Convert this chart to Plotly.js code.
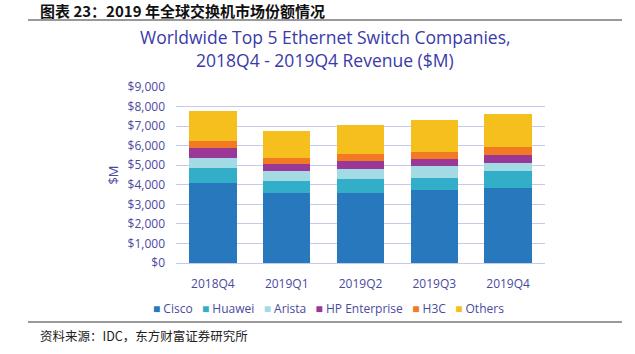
<!DOCTYPE html>
<html>
<head>
<meta charset="utf-8">
<script src="https://cdn.plot.ly/plotly-3.0.1.min.js"></script>
<style>html,body{margin:0;padding:0;background:#fff;}#chart{width:635px;height:354px;}</style>
</head>
<body>
<div id="chart"></div>
<script>
const quarters = ["2018Q4", "2019Q1", "2019Q2", "2019Q3", "2019Q4"];
const cisco   = [4110, 3600, 3580, 3740, 3850];
const huawei  = [760, 610, 700, 630, 840];
const arista  = [510, 510, 510, 580, 440];
const hpe     = [490, 340, 410, 390, 410];
const h3c     = [360, 320, 370, 360, 390];
const others  = [1550, 1350, 1480, 1620, 1700];
const yTickVals = [0, 1000, 2000, 3000, 4000, 5000, 6000, 7000, 8000, 9000];
const yTickText = ["$0", "$1,000", "$2,000", "$3,000", "$4,000", "$5,000", "$6,000", "$7,000", "$8,000", "$9,000"];

const seriesNames = ["Cisco", "Huawei", "Arista", "HP Enterprise", "H3C", "Others"];
const seriesVals = [cisco, huawei, arista, hpe, h3c, others];
const colors = ["#2778bd", "#33aec8", "#a3dbe4", "#9b3797", "#f27a22", "#f5c01e"];

const traces = seriesNames.map((n, i) => ({
  type: "bar", name: n, x: quarters, y: seriesVals[i],
  marker: {color: colors[i], line: {width: 0}},
  hoverinfo: "none", showlegend: false
}));

const txt = "#4a4aa0";
const W = 635, H = 354, L = 176, R = 90, T = 87, B = 91;
const pw = W - L - R, ph = H - T - B;
const px = v => (v - L) / pw;
const py = v => (H - B - v) / ph;

const legendText = seriesNames.map((n, i) =>
  `<span style="color:${colors[i]};font-size:12px">■</span> ${n}`).join("&nbsp;&nbsp;&nbsp;");

const layout = {
  width: W, height: H,
  margin: {l: L, r: R, t: T, b: B},
  barmode: "stack", bargap: 0.36,
  paper_bgcolor: "#fff", plot_bgcolor: "#fff",
  font: {family: "Open Sans, Noto Sans, sans-serif", color: txt, size: 12},
  xaxis: {
    showgrid: false, showline: true, linecolor: "#c8c8ee", linewidth: 1,
    ticks: "", tickfont: {size: 12, color: txt}, ticklabelstandoff: 10, fixedrange: true
  },
  yaxis: {
    range: [0, 9000], tickvals: yTickVals, ticktext: yTickText,
    showgrid: true, gridcolor: "#c8c8ee", gridwidth: 1, zeroline: false,
    showline: false, ticks: "", tickfont: {size: 12, color: txt}, ticklabelstandoff: 10,
    title: {text: "$M", font: {size: 13, color: txt}, standoff: 6},
    fixedrange: true
  },
  showlegend: false,
  annotations: [
    {text: "Worldwide Top 5 Ethernet Switch Companies,", xref: "paper", yref: "paper",
     x: px(325), y: py(37), xanchor: "center", yanchor: "middle", showarrow: false,
     font: {size: 17.5, color: "#3a3aa8"}},
    {text: "2018Q4 - 2019Q4 Revenue ($M)", xref: "paper", yref: "paper",
     x: px(325), y: py(60), xanchor: "center", yanchor: "middle", showarrow: false,
     font: {size: 17.5, color: "#3a3aa8"}},
    {text: legendText, xref: "paper", yref: "paper",
     x: px(328), y: py(308), xanchor: "center", yanchor: "middle", showarrow: false,
     font: {size: 12, color: txt}},
    {text: "<b>图表 23：2019 年全球交换机市场份额情况</b>", xref: "paper", yref: "paper",
     x: px(38), y: py(10), xanchor: "left", yanchor: "middle", showarrow: false,
     font: {family: "Noto Sans CJK SC", size: 15, color: "#111"}},
    {text: "资料来源：IDC，东方财富证券研究所", xref: "paper", yref: "paper",
     x: px(38), y: py(335), xanchor: "left", yanchor: "middle", showarrow: false,
     font: {family: "Noto Sans CJK SC", size: 12.5, color: "#222"}}
  ],
  shapes: [
    {type: "line", xref: "paper", yref: "paper", x0: px(28), x1: px(622),
     y0: py(20), y1: py(20), line: {color: "#777", width: 1.5}},
    {type: "line", xref: "paper", yref: "paper", x0: px(28), x1: px(622),
     y0: py(322), y1: py(322), line: {color: "#777", width: 1.5}}
  ]
};

Plotly.newPlot("chart", traces, layout, {displayModeBar: false, staticPlot: true});
</script>
</body>
</html>
